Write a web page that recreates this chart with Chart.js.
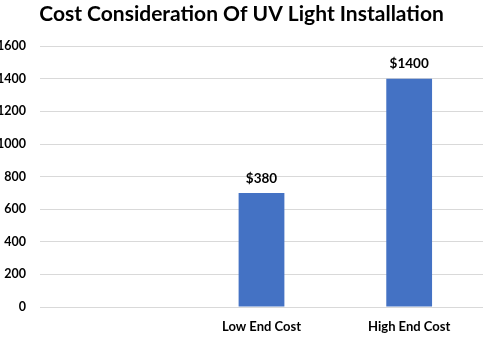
<!DOCTYPE html>
<html>
<head>
<meta charset="utf-8">
<script src="https://cdn.jsdelivr.net/npm/chart.js@4.4.1/dist/chart.umd.min.js"></script>
<style>
  html, body { margin: 0; padding: 0; background: #fff; overflow: hidden; }
  #wrap { position: relative; width: 487px; height: 339px; }
</style>
</head>
<body>
<div id="wrap"><canvas id="costChart"></canvas></div>
<script>
// ─── Data ───────────────────────────────────────
const categories = ["", "Low End Cost", "High End Cost"];
const costValues = [null, 700, 1400];
const barLabels  = ["", "$380", "$1400"];
const yTicks     = [0, 200, 400, 600, 800, 1000, 1200, 1400, 1600];

const FONT = "Lato, 'Open Sans', sans-serif";

// draws the dollar text above each bar
const barLabelPlugin = {
    id: "barLabels",
    afterDatasetsDraw(chart) {
        const ctx = chart.ctx;
        const meta = chart.getDatasetMeta(0);
        ctx.save();
        ctx.font = "bold 13.5px " + FONT;
        ctx.fillStyle = "#000";
        ctx.textAlign = "center";
        ctx.textBaseline = "bottom";
        meta.data.forEach((bar, i) => {
            if (costValues[i] == null) return;
            ctx.fillText(barLabels[i], bar.x, bar.y - 8);
        });
        ctx.restore();
    }
};

new Chart(document.getElementById("costChart"), {
    type: "bar",
    data: {
        labels: categories,
        datasets: [{
            data: costValues,
            backgroundColor: "#4472c4",
            categoryPercentage: 1,
            barPercentage: 0.31
        }]
    },
    options: {
        responsive: true,
        maintainAspectRatio: false,
        animation: false,
        layout: { padding: { left: 0, right: 4, top: 0, bottom: 6 } },
        plugins: {
            legend: { display: false },
            tooltip: { enabled: false },
            title: {
                display: true,
                text: "Cost Consideration Of UV Light Installation",
                color: "#000",
                font: { family: FONT, size: 21, weight: "bold" },
                padding: { top: 2, bottom: 19 }
            }
        },
        scales: {
            x: {
                afterFit: axis => { axis.height = 26; },
                grid: { display: false },
                border: { display: false },
                ticks: { color: "#000", font: { family: FONT, size: 13, weight: "bold" }, padding: 4 }
            },
            y: {
                min: 0,
                max: 1600,
                afterBuildTicks: axis => { axis.ticks = yTicks.map(v => ({ value: v })); },
                afterFit: axis => { axis.width = 40; },
                grid: { color: "#d9d9d9", drawTicks: false },
                border: { display: false },
                ticks: {
                    color: "#000",
                    font: { family: FONT, size: 12.5, weight: "bold" },
                    padding: 14,
                    callback: v => String(v)
                }
            }
        }
    },
    plugins: [barLabelPlugin]
});
</script>
</body>
</html>
